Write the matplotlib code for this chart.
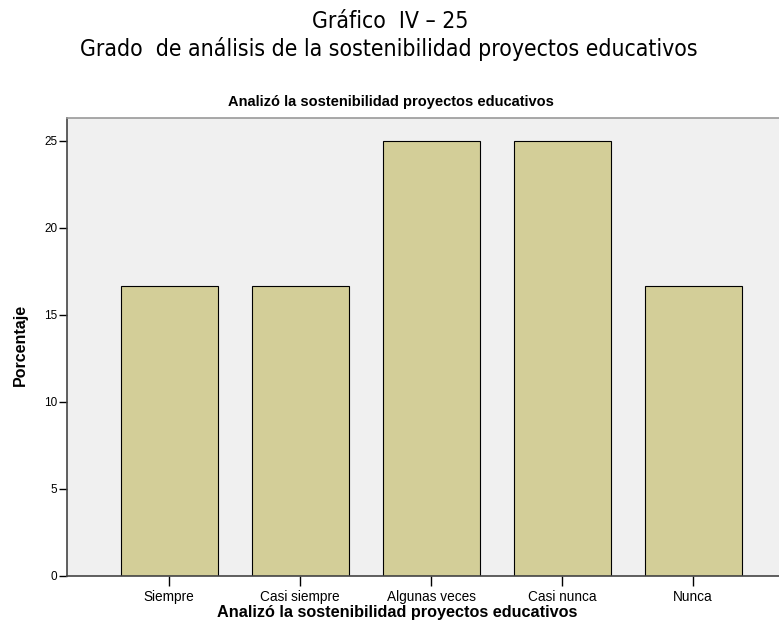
import matplotlib
matplotlib.use("Agg")
import matplotlib.pyplot as plt
from matplotlib import font_manager
from matplotlib.font_manager import FontProperties

categories = ["Siempre", "Casi siempre", "Algunas veces", "Casi nunca", "Nunca"]
values = [16.67, 16.67, 25.0, 25.0, 16.67]
yticks = [0, 5, 10, 15, 20, 25]

title1 = "Gráfico  IV – 25"
title2 = "Grado  de análisis de la sostenibilidad proyectos educativos"
subtitle = "Analizó la sostenibilidad proyectos educativos"
xlabel = "Analizó la sostenibilidad proyectos educativos"
ylabel = "Porcentaje"

# pick a narrow font for the document title if one is installed
narrow_file = None
for f in font_manager.fontManager.ttflist:
    base = f.fname.lower()
    if "liberationsansnarrow-regular" in base:
        narrow_file = f.fname
        break
if narrow_file is None:
    for f in font_manager.fontManager.ttflist:
        if "dejavusanscondensed.ttf" in f.fname.lower():
            narrow_file = f.fname
            break
if narrow_file:
    title_fp = FontProperties(fname=narrow_file)
else:
    title_fp = FontProperties(family="Liberation Sans")

fig = plt.figure(figsize=(7.79, 6.26), dpi=100)
renderer = fig.canvas.get_renderer()


def fit_text(t, target_px):
    w = t.get_window_extent(renderer).width
    if w > 0:
        t.set_fontsize(t.get_fontsize() * target_px / w)


ax = fig.add_axes([0.086, 0.0799, 0.914, 0.7316])
ax.set_facecolor("#F0F0F0")
x = list(range(len(categories)))
ax.bar(x, values, width=0.74, color="#D3CE98", edgecolor="#000000", linewidth=0.8, zorder=2)
ax.set_xlim(-0.779, 4.656)
ax.set_ylim(0, 26.3)
ax.set_yticks(yticks)
ax.set_yticklabels([str(t) for t in yticks], fontsize=8.5, family="Liberation Sans")
ax.set_xticks(x)
ax.set_xticklabels(categories, fontsize=9.8, family="Liberation Sans")
ax.tick_params(axis="y", direction="out", length=6, width=1, pad=1, colors="#000000")
ax.tick_params(axis="x", direction="out", length=7, width=1, pad=3, colors="#000000")
for s in ["left", "bottom"]:
    ax.spines[s].set_color("#444444")
    ax.spines[s].set_linewidth(1.2)
ax.spines["top"].set_color("#999999")
ax.spines["top"].set_linewidth(1.2)
ax.spines["right"].set_visible(False)

ylab = fig.text(20 / 779, 1 - 345 / 626, ylabel, rotation=90, ha="center", va="center",
                fontsize=11.5, fontweight="bold", family="Liberation Sans")
xlab = fig.text(397 / 779, 1 - 612 / 626, xlabel, ha="center", va="center",
                fontsize=11.5, fontweight="bold", family="Liberation Sans")
t1 = fig.text(390 / 779, 1 - 22 / 626, title1, ha="center", va="center",
              fontsize=18, fontproperties=title_fp)
t2 = fig.text(389 / 779, 1 - 49 / 626, title2, ha="center", va="center",
              fontsize=18, fontproperties=title_fp)
st = fig.text(391 / 779, 1 - 102 / 626, subtitle, ha="center", va="center",
              fontsize=10.5, family="Liberation Sans", fontweight="bold")

fit_text(t2, 617)
t1.set_fontsize(t2.get_fontsize())
fit_text(st, 327)
fit_text(xlab, 362)

fig.savefig("out.png", dpi=100)
